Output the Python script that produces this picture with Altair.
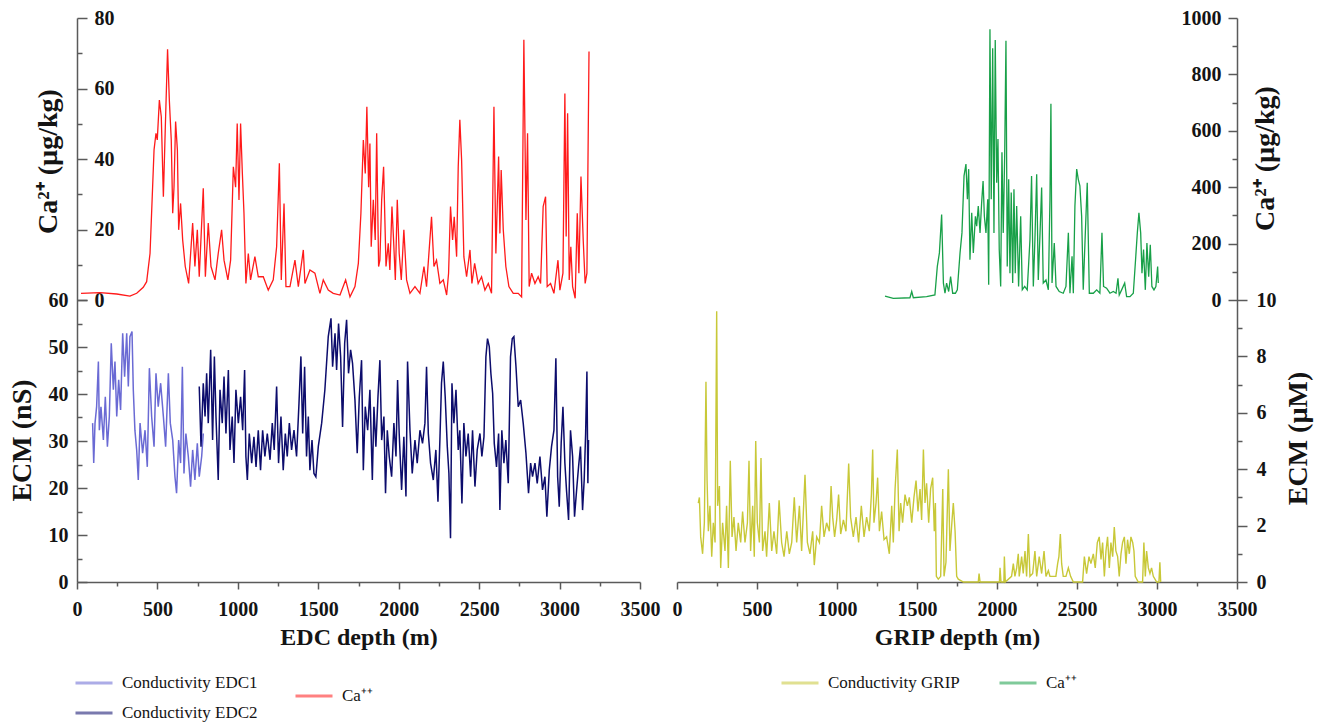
import altair as alt
import pandas as pd

# ---------------- data ----------------
# EDC Ca++ (µg/kg) vs EDC depth (m)
edc_ca_depth = [
    25, 143, 247, 329, 371, 412, 433, 454, 470, 479,
    491, 499, 512, 524, 537, 549, 563, 574, 586, 595,
    603, 613, 624, 632, 644, 657, 673, 694, 719, 733,
    748, 760, 785, 798, 816, 833, 858, 878, 899, 914,
    938, 955, 972, 986, 996, 1007, 1017, 1028, 1038, 1050,
    1065, 1079, 1106, 1127, 1158, 1189, 1220, 1241, 1258, 1270,
    1287, 1299, 1324, 1355, 1376, 1407, 1417, 1448, 1479, 1510,
    1531, 1562, 1593, 1635, 1670, 1697, 1728, 1749, 1765, 1780,
    1792, 1802, 1813, 1821, 1829, 1842, 1854, 1863, 1875, 1883,
    1894, 1906, 1921, 1935, 1945, 1958, 1968, 1979, 1991, 2003,
    2016, 2032, 2049, 2070, 2101, 2132, 2157, 2173, 2204, 2219,
    2235, 2256, 2277, 2298, 2310, 2322, 2335, 2345, 2360, 2370,
    2380, 2391, 2405, 2422, 2443, 2455, 2472, 2494, 2515, 2536,
    2557, 2577, 2592, 2604, 2621, 2629, 2637, 2650, 2666, 2685,
    2712, 2743, 2764, 2778, 2791, 2801, 2811, 2826, 2847, 2867,
    2882, 2898, 2913, 2923, 2944, 2965, 2990, 3002, 3021, 3033,
    3041, 3050, 3060, 3070, 3081, 3097, 3110, 3120, 3133, 3147,
    3159, 3170, 3183]
edc_ca = [
    1.9, 2.1, 1.7, 1.1, 1.9, 3.6, 5.2, 13.2, 32.0, 42.6,
    47.3, 45.4, 56.7, 52.0, 29.3, 49.0, 71.1, 56.7, 45.4, 24.6,
    32.0, 50.6, 42.6, 19.9, 27.4, 17.0, 9.5, 4.7, 21.8, 9.5,
    19.9, 6.6, 31.7, 6.6, 21.8, 9.5, 5.7, 13.2, 19.9, 11.3,
    5.7, 11.3, 37.8, 32.0, 50.1, 28.4, 50.1, 35.9, 24.6, 4.7,
    13.2, 5.7, 12.3, 6.6, 6.6, 2.8, 5.7, 15.1, 38.8, 5.7,
    27.4, 3.8, 3.8, 11.3, 3.8, 14.2, 4.7, 8.5, 7.6, 1.9,
    5.7, 2.8, 1.9, 1.4, 5.7, 0.9, 3.8, 10.4, 24.6, 45.4,
    35.9, 54.8, 32.0, 44.4, 15.1, 28.4, 17.0, 47.3, 9.5, 11.3,
    28.4, 37.8, 9.5, 16.1, 8.5, 26.5, 17.0, 5.7, 28.4, 13.2,
    5.7, 19.9, 5.7, 1.9, 3.8, 1.9, 9.5, 3.8, 23.6, 9.5,
    11.3, 4.7, 5.7, 1.4, 7.6, 26.5, 17.0, 23.6, 12.3, 37.8,
    51.1, 39.7, 12.3, 6.6, 14.2, 4.7, 10.4, 4.7, 6.6, 2.8,
    4.7, 1.9, 54.8, 13.2, 40.7, 18.9, 36.9, 19.9, 9.5, 3.8,
    1.9, 1.9, 0.9, 73.8, 22.7, 47.3, 3.8, 7.6, 4.7, 6.6,
    4.7, 26.5, 29.3, 3.8, 4.7, 1.9, 11.3, 2.8, 7.6, 58.6,
    18.0, 53.0, 5.7, 15.1, 3.8, 0.5, 24.6, 7.6, 35.0, 17.0,
    4.7, 7.6, 70.5]

# EDC1 conductivity (nS)
edc1_depth = [
    97, 104, 112, 122, 133, 139, 149, 164, 176, 189,
    201, 213, 226, 236, 247, 259, 271, 284, 296, 309,
    319, 329, 342, 350, 360, 371, 381, 392, 408, 423,
    437, 450, 464, 479, 491, 505, 520, 537, 551, 568,
    580, 595, 609, 619, 632, 644, 655, 665, 677, 692,
    706, 719, 733, 748, 760, 775, 785]
edc1_ecm = [
    33.8, 25.3, 33.8, 37.3, 46.9, 32.3, 37.3, 30.2, 39.4, 28.8,
    35.2, 50.8, 40.9, 46.9, 35.2, 43.0, 36.6, 52.9, 43.7, 52.9,
    41.6, 52.2, 53.3, 40.9, 32.3, 28.1, 21.7, 33.8, 27.4, 32.3,
    24.5, 45.5, 35.2, 28.8, 44.4, 37.3, 42.3, 35.2, 28.8, 44.4,
    33.8, 30.2, 22.4, 18.9, 30.2, 25.3, 45.8, 23.1, 31.6, 26.7,
    20.3, 28.1, 21.7, 29.5, 22.4, 26.7, 31.6]

# EDC2 conductivity (nS)
edc2_depth = [
    760, 771, 785, 796, 806, 816, 831, 843, 854, 864,
    878, 889, 903, 914, 926, 941, 951, 965, 976, 988,
    1003, 1017, 1030, 1042, 1050, 1059, 1071, 1086, 1100, 1113,
    1127, 1141, 1154, 1168, 1183, 1200, 1214, 1226, 1241, 1253,
    1268, 1282, 1295, 1307, 1320, 1334, 1349, 1365, 1380, 1392,
    1403, 1415, 1427, 1438, 1448, 1461, 1473, 1485, 1500, 1521,
    1541, 1562, 1579, 1589, 1604, 1614, 1626, 1639, 1651, 1664,
    1676, 1688, 1701, 1713, 1728, 1742, 1755, 1769, 1780, 1792,
    1807, 1821, 1836, 1846, 1858, 1871, 1883, 1894, 1908, 1918,
    1929, 1941, 1956, 1970, 1983, 1993, 2003, 2018, 2032, 2045,
    2055, 2070, 2084, 2101, 2115, 2132, 2148, 2163, 2173, 2184,
    2198, 2215, 2231, 2244, 2256, 2266, 2277, 2289, 2302, 2312,
    2322, 2331, 2343, 2356, 2370, 2380, 2393, 2405, 2418, 2432,
    2447, 2459, 2474, 2488, 2505, 2517, 2530, 2542, 2552, 2563,
    2573, 2584, 2594, 2608, 2621, 2629, 2641, 2654, 2666, 2681,
    2695, 2706, 2716, 2729, 2743, 2758, 2774, 2791, 2807, 2820,
    2832, 2847, 2861, 2878, 2894, 2909, 2921, 2936, 2950, 2965,
    2977, 2988, 2998, 3010, 3021, 3033, 3043, 3056, 3068, 3081,
    3093, 3106, 3118, 3130, 3143, 3153, 3162, 3170, 3176, 3180]
edc2_ecm = [
    41.6, 28.8, 42.3, 35.2, 44.4, 33.8, 49.4, 30.2, 48.0, 35.2,
    21.7, 40.9, 33.8, 43.7, 31.6, 45.1, 28.1, 35.2, 25.3, 40.9,
    33.8, 39.4, 32.3, 45.1, 26.7, 21.7, 31.6, 25.3, 30.9, 24.5,
    32.3, 23.8, 32.3, 26.7, 31.6, 26.0, 33.8, 28.1, 41.6, 25.3,
    35.2, 23.8, 31.6, 26.7, 33.8, 28.1, 32.3, 26.7, 38.0, 48.0,
    31.6, 45.8, 26.7, 35.2, 23.8, 30.2, 23.1, 22.4, 28.8, 33.8,
    40.9, 52.2, 56.1, 45.8, 52.9, 45.1, 55.0, 47.9, 33.0, 50.8,
    55.8, 44.4, 49.4, 46.5, 38.7, 27.4, 39.4, 47.2, 23.8, 37.3,
    32.3, 40.9, 21.7, 37.3, 28.8, 39.4, 47.2, 30.2, 35.2, 18.9,
    32.3, 26.7, 22.4, 33.8, 26.7, 43.0, 31.6, 19.6, 30.9, 18.2,
    46.9, 32.3, 23.1, 30.2, 25.3, 32.3, 29.5, 33.8, 45.8, 31.6,
    25.3, 21.7, 28.1, 17.1, 30.2, 42.3, 46.9, 39.4, 28.8, 23.1,
    9.3, 42.3, 33.8, 40.9, 28.1, 32.3, 16.7, 33.8, 26.7, 31.6,
    22.4, 32.3, 20.3, 28.1, 31.6, 26.7, 30.9, 47.9, 51.8, 50.1,
    44.4, 40.1, 29.5, 24.5, 31.6, 15.3, 32.3, 25.3, 30.2, 21.0,
    47.9, 51.8, 52.2, 45.8, 37.3, 38.7, 33.8, 27.4, 18.9, 25.3,
    22.4, 25.3, 21.0, 26.7, 19.6, 22.4, 13.9, 23.8, 28.8, 32.3,
    47.6, 22.4, 16.0, 29.5, 37.3, 25.3, 19.6, 13.2, 32.3, 26.7,
    13.9, 19.6, 24.5, 28.8, 15.3, 21.7, 31.6, 44.8, 21.0, 30.2]

# GRIP Ca++ (µg/kg)
grip_ca_depth = [
    1300, 1352, 1456, 1467, 1477, 1560, 1612, 1627, 1640, 1654,
    1665, 1675, 1685, 1698, 1710, 1723, 1740, 1752, 1769, 1781,
    1794, 1806, 1815, 1823, 1831, 1842, 1852, 1865, 1873, 1883,
    1894, 1904, 1913, 1921, 1931, 1942, 1948, 1956, 1964, 1973,
    1981, 1989, 1998, 2006, 2014, 2023, 2031, 2039, 2048, 2056,
    2064, 2073, 2081, 2089, 2098, 2106, 2114, 2123, 2135, 2148,
    2158, 2173, 2189, 2206, 2216, 2227, 2237, 2248, 2258, 2269,
    2279, 2289, 2306, 2321, 2331, 2337, 2344, 2358, 2369, 2389,
    2414, 2431, 2446, 2456, 2469, 2477, 2487, 2498, 2508, 2518,
    2529, 2539, 2552, 2564, 2577, 2602, 2623, 2643, 2656, 2666,
    2685, 2706, 2727, 2744, 2756, 2764, 2779, 2798, 2810, 2831,
    2852, 2866, 2877, 2887, 2898, 2906, 2916, 2927, 2937, 2948,
    2958, 2968, 2981, 2993, 3004, 3008]
grip_ca = [
    14, 6, 8, 30, 8, 12, 18, 119, 167, 303,
    60, 24, 60, 30, 83, 24, 24, 36, 167, 238,
    440, 482, 357, 464, 143, 309, 167, 297, 262, 333,
    238, 345, 422, 297, 238, 357, 54, 960, 357, 893,
    238, 922, 416, 571, 179, 48, 524, 238, 512, 919,
    119, 428, 95, 381, 60, 393, 95, 333, 48, 297,
    36, 48, 36, 214, 440, 48, 214, 446, 71, 238,
    399, 60, 71, 36, 357, 696, 60, 202, 48, 30,
    24, 48, 238, 24, 155, 24, 333, 464, 428, 405,
    297, 36, 238, 416, 24, 24, 36, 24, 238, 48,
    42, 24, 30, 24, 77, 18, 36, 60, 12, 12,
    24, 143, 238, 309, 238, 95, 179, 36, 202, 83,
    196, 48, 36, 48, 119, 60]

# GRIP conductivity (µM)
grip_ecm_depth = [
    133, 140, 148, 160, 171, 181, 188, 196, 206, 217,
    227, 238, 248, 254, 265, 273, 285, 300, 310, 321,
    333, 344, 356, 369, 383, 398, 410, 425, 440, 450,
    460, 473, 483, 492, 502, 515, 525, 535, 550, 560,
    577, 592, 606, 623, 638, 654, 669, 686, 702, 717,
    733, 748, 765, 779, 800, 815, 831, 848, 858, 873,
    890, 904, 919, 935, 952, 963, 973, 985, 998, 1010,
    1023, 1040, 1056, 1073, 1085, 1102, 1119, 1135, 1152, 1169,
    1185, 1202, 1215, 1223, 1231, 1244, 1254, 1265, 1279, 1294,
    1310, 1327, 1342, 1352, 1363, 1377, 1388, 1398, 1410, 1425,
    1440, 1452, 1467, 1481, 1494, 1506, 1519, 1529, 1540, 1550,
    1560, 1573, 1585, 1598, 1608, 1615, 1621, 1633, 1648, 1661,
    1669, 1681, 1696, 1706, 1719, 1727, 1738, 1748, 1758, 1790,
    1883, 1888, 1894, 2015, 2019, 2025, 2043, 2046, 2052, 2091,
    2102, 2112, 2123, 2133, 2139, 2154, 2164, 2175, 2185, 2196,
    2206, 2223, 2237, 2248, 2264, 2279, 2294, 2306, 2321, 2331,
    2352, 2368, 2379, 2387, 2396, 2404, 2414, 2431, 2446, 2460,
    2477, 2535, 2546, 2560, 2575, 2587, 2602, 2614, 2627, 2639,
    2650, 2660, 2671, 2681, 2691, 2702, 2712, 2723, 2733, 2743,
    2754, 2764, 2775, 2785, 2796, 2806, 2816, 2827, 2837, 2848,
    2856, 2864, 2883, 2910, 2918, 2927, 2935, 2946, 2956, 2966,
    2977, 2998, 3012, 3018, 3023]
grip_ecm = [
    2.8, 3.0, 1.6, 1.0, 2.1, 7.1, 3.6, 1.8, 2.7, 0.9,
    2.1, 1.4, 9.6, 2.7, 3.4, 0.5, 2.1, 1.1, 2.7, 0.5,
    4.3, 1.6, 2.3, 1.1, 2.1, 1.4, 2.5, 1.4, 2.1, 4.3,
    1.1, 2.7, 0.9, 5.0, 2.1, 1.4, 4.4, 1.1, 1.8, 0.9,
    2.8, 1.1, 1.8, 1.0, 2.9, 1.4, 0.9, 1.8, 1.0, 1.4,
    3.0, 1.4, 2.7, 1.1, 3.8, 1.4, 1.0, 1.8, 0.6, 1.6,
    1.4, 2.7, 1.6, 2.1, 1.8, 3.4, 2.3, 1.6, 2.2, 3.1,
    1.7, 2.2, 1.8, 4.2, 2.3, 1.6, 2.3, 1.4, 2.7, 1.6,
    2.3, 1.8, 3.1, 4.7, 2.1, 2.8, 3.7, 1.8, 2.5, 1.5,
    1.6, 1.0, 2.7, 1.4, 3.3, 4.7, 1.8, 2.8, 2.1, 3.1,
    2.7, 3.0, 2.1, 3.0, 3.6, 2.5, 3.3, 2.2, 4.7, 2.8,
    3.5, 2.1, 3.3, 3.7, 1.8, 2.8, 0.2, 0.1, 0.2, 3.3,
    0.2, 0.7, 4.0, 1.1, 2.2, 2.8, 1.8, 0.2, 0.1, 0.0,
    0.0, 0.3, 0.0, 0.0, 0.5, 0.0, 0.0, 0.9, 0.0, 0.2,
    0.65, 0.2, 0.5, 1.0, 0.2, 0.9, 0.3, 1.1, 0.2, 1.7,
    0.2, 0.3, 1.1, 0.2, 0.9, 0.3, 1.1, 0.2, 0.4, 0.2,
    0.2, 0.2, 0.65, 0.9, 1.7, 0.65, 0.2, 0.2, 0.5, 0.2,
    0.0, 0.0, 0.9, 0.3, 0.9, 0.65, 1.0, 0.5, 1.4, 1.6,
    0.8, 1.4, 0.2, 1.1, 1.6, 0.5, 1.4, 0.9, 1.95, 1.1,
    0.9, 0.2, 1.0, 1.4, 1.6, 0.65, 1.5, 1.0, 1.6, 1.4,
    1.1, 0.2, 0.0, 0.0, 1.4, 0.2, 1.1, 0.5, 0.3, 0.5,
    0.2, 0.0, 0.0, 0.7, 0.0]

# axis tick values
x_major = [0, 500, 1000, 1500, 2000, 2500, 3000, 3500]
x_minor = [250, 750, 1250, 1750, 2250, 2750, 3250]
edc_ecm_major = [0, 10, 20, 30, 40, 50, 60]
edc_ecm_minor = [5, 15, 25, 35, 45, 55]
edc_ca_major = [0, 20, 40, 60, 80]
edc_ca_minor = [10, 30, 50, 70]
grip_ca_major = [0, 200, 400, 600, 800, 1000]
grip_ca_minor = [100, 300, 500, 700, 900]
grip_ecm_major = [0, 2, 4, 6, 8, 10]
grip_ecm_minor = [1, 3, 5, 7, 9]

# ---------------- tables ----------------
df_edc_ca = pd.DataFrame({"depth": edc_ca_depth, "value": edc_ca, "series": "Ca⁺⁺"})
df_edc1 = pd.DataFrame({"depth": edc1_depth, "value": edc1_ecm, "series": "Conductivity EDC1"})
df_edc2 = pd.DataFrame({"depth": edc2_depth, "value": edc2_ecm, "series": "Conductivity EDC2"})
df_grip_ca = pd.DataFrame({"depth": grip_ca_depth, "value": grip_ca, "series": "Ca⁺⁺"})
df_grip = pd.DataFrame({"depth": grip_ecm_depth, "value": grip_ecm, "series": "Conductivity GRIP"})

# ---------------- style ----------------
FONT = "Liberation Serif"
TXT = "#141414"
AX = "#5a5a5a"
W, H = 1160, 564
LEFT = [0, 563]
RIGHT = [600, 1160]
C_EDC1 = "#6a6ad4"
C_EDC2 = "#0c0c6c"
C_RED = "#ff1a1a"
C_GRIP = "#c8c838"
C_GREEN = "#18a048"
YT = 28   # y-axis title size
XT = 24   # x-axis title size


def axis(**kw):
    base = dict(grid=False, labelFont=FONT, labelFontSize=20, labelFontWeight="bold",
                labelColor=TXT, titleFont=FONT, titleFontSize=YT, titleFontWeight="bold",
                titleColor=TXT, tickColor=AX, tickWidth=1.5, domainColor=AX, domainWidth=1.5,
                labelFlush=False, labelOverlap=False, format="d")
    base.update(kw)
    return alt.Axis(**base)


def ticks_only(orient, values, size, offset=0):
    return axis(orient=orient, values=values, tickSize=size, labels=False,
                domain=False, title=None, offset=offset)


def xenc(rng, ax=None):
    if ax is None:
        return alt.X("depth:Q", scale=alt.Scale(domain=[0, 3500], range=rng, nice=False), axis=None)
    return alt.X("depth:Q", scale=alt.Scale(domain=[0, 3500], range=rng, nice=False), axis=ax)


def yenc(dom, ax=None):
    if ax is None:
        return alt.Y("value:Q", scale=alt.Scale(domain=dom, nice=False, zero=False), axis=None)
    return alt.Y("value:Q", scale=alt.Scale(domain=dom, nice=False, zero=False), axis=ax)


def cenc(name, color, lx, ly):
    return alt.Color("series:N", scale=alt.Scale(domain=[name], range=[color]),
                     legend=alt.Legend(orient="none", legendX=lx, legendY=ly, title=None,
                                       symbolType="stroke", symbolSize=1369,
                                       symbolStrokeWidth=3, symbolOpacity=0.55,
                                       labelFont=FONT, labelFontSize=17, labelColor=TXT,
                                       labelOffset=8, padding=0))


EDC_ECM = [0, 120]
EDC_CA = [-80, 80]
GRIP_ECM = [0, 20]
GRIP_CA = [-1000, 1000]

# ---------------- left (EDC) ----------------
l_edc1 = alt.Chart(df_edc1).mark_line(strokeWidth=1.5).encode(
    x=xenc(LEFT, axis(orient="bottom", values=x_major, tickSize=7, labelPadding=10,
                      title="EDC depth (m)", titleFontSize=XT, titleY=55,
                      titleBaseline="middle")),
    y=yenc(EDC_ECM, axis(orient="left", values=edc_ecm_major, ticks=False, tickSize=0,
                         labelPadding=9, title="ECM (nS)", titleX=-55, titleY=440 - 18,
                         titleAngle=270, titleAlign="center", titleBaseline="middle")),
    color=cenc("Conductivity EDC1", C_EDC1, -3, 645),
)
l_edc2 = alt.Chart(df_edc2).mark_line(strokeWidth=1.5).encode(
    x=xenc(LEFT), y=yenc(EDC_ECM),
    color=cenc("Conductivity EDC2", C_EDC2, -3, 675),
)
l_ca = alt.Chart(df_edc_ca).mark_line(strokeWidth=1.3).encode(
    x=xenc(LEFT),
    y=yenc(EDC_CA, axis(orient="right", offset=-W, values=edc_ca_major, tickSize=10,
                        labelPadding=7, domain=False, title="Ca²⁺ (µg/kg)", titleX=-29,
                        titleY=143, titleAngle=270, titleAlign="center",
                        titleBaseline="middle")),
    color=cenc("Ca⁺⁺", C_RED, 217, 658),
)
l_t1 = alt.Chart(df_edc2).mark_line(strokeOpacity=0).encode(
    x=xenc(LEFT, axis(orient="bottom", values=x_minor, tickSize=4, labels=False,
                      domain=False, title=None)),
    y=yenc(EDC_ECM, ticks_only("right", edc_ecm_major, 10, -W)),
)
l_t2 = alt.Chart(df_edc2).mark_line(strokeOpacity=0).encode(
    x=xenc(LEFT), y=yenc(EDC_ECM, ticks_only("right", edc_ecm_minor, 5, -W)),
)
l_t3 = alt.Chart(df_edc_ca).mark_line(strokeOpacity=0).encode(
    x=xenc(LEFT), y=yenc(EDC_CA, ticks_only("right", edc_ca_minor, 5, -W)),
)

# ---------------- right (GRIP) ----------------
r_ecm = alt.Chart(df_grip).mark_line(strokeWidth=1.4).encode(
    x=xenc(RIGHT, axis(orient="bottom", values=x_major, tickSize=7, labelPadding=10,
                       title="GRIP depth (m)", titleFontSize=XT, titleY=55,
                       titleBaseline="middle")),
    y=yenc(GRIP_ECM, axis(orient="right", values=grip_ecm_major, tickSize=10,
                          labelPadding=9, title="ECM (µM)", titleX=61, titleY=420,
                          titleAngle=270, titleAlign="center", titleBaseline="middle")),
    color=cenc("Conductivity GRIP", C_GRIP, 703, 645),
)
r_ca = alt.Chart(df_grip_ca).mark_line(strokeWidth=1.3).encode(
    x=xenc(RIGHT),
    y=yenc(GRIP_CA, axis(orient="left", offset=-W, values=grip_ca_major, tickSize=9,
                         labelPadding=7, domain=False, title="Ca²⁺ (µg/kg)", titleX=28,
                         titleY=140, titleAngle=270, titleAlign="center",
                         titleBaseline="middle")),
    color=cenc("Ca⁺⁺", C_GREEN, 921, 645),
)
r_t1 = alt.Chart(df_grip).mark_line(strokeOpacity=0).encode(
    x=xenc(RIGHT, axis(orient="bottom", values=x_minor, tickSize=4, labels=False,
                       domain=False, title=None)),
    y=yenc(GRIP_ECM, ticks_only("right", grip_ecm_minor, 5)),
)
r_t2 = alt.Chart(df_grip_ca).mark_line(strokeOpacity=0).encode(
    x=xenc(RIGHT), y=yenc(GRIP_CA, ticks_only("left", grip_ca_minor, 5, -W)),
)

chart = alt.layer(
    l_edc1, l_edc2, l_ca, l_t1, l_t2, l_t3, r_ecm, r_ca, r_t1, r_t2
).resolve_scale(
    x="independent", y="independent", color="independent"
).properties(
    width=W, height=H,
    autosize=alt.AutoSizeParams(type="none"),
    padding={"left": 77, "top": 18, "right": 87, "bottom": 146},
    background="white",
).configure_view(stroke=None)

chart.save("out.html", embed_options={"renderer": "svg", "actions": False})
